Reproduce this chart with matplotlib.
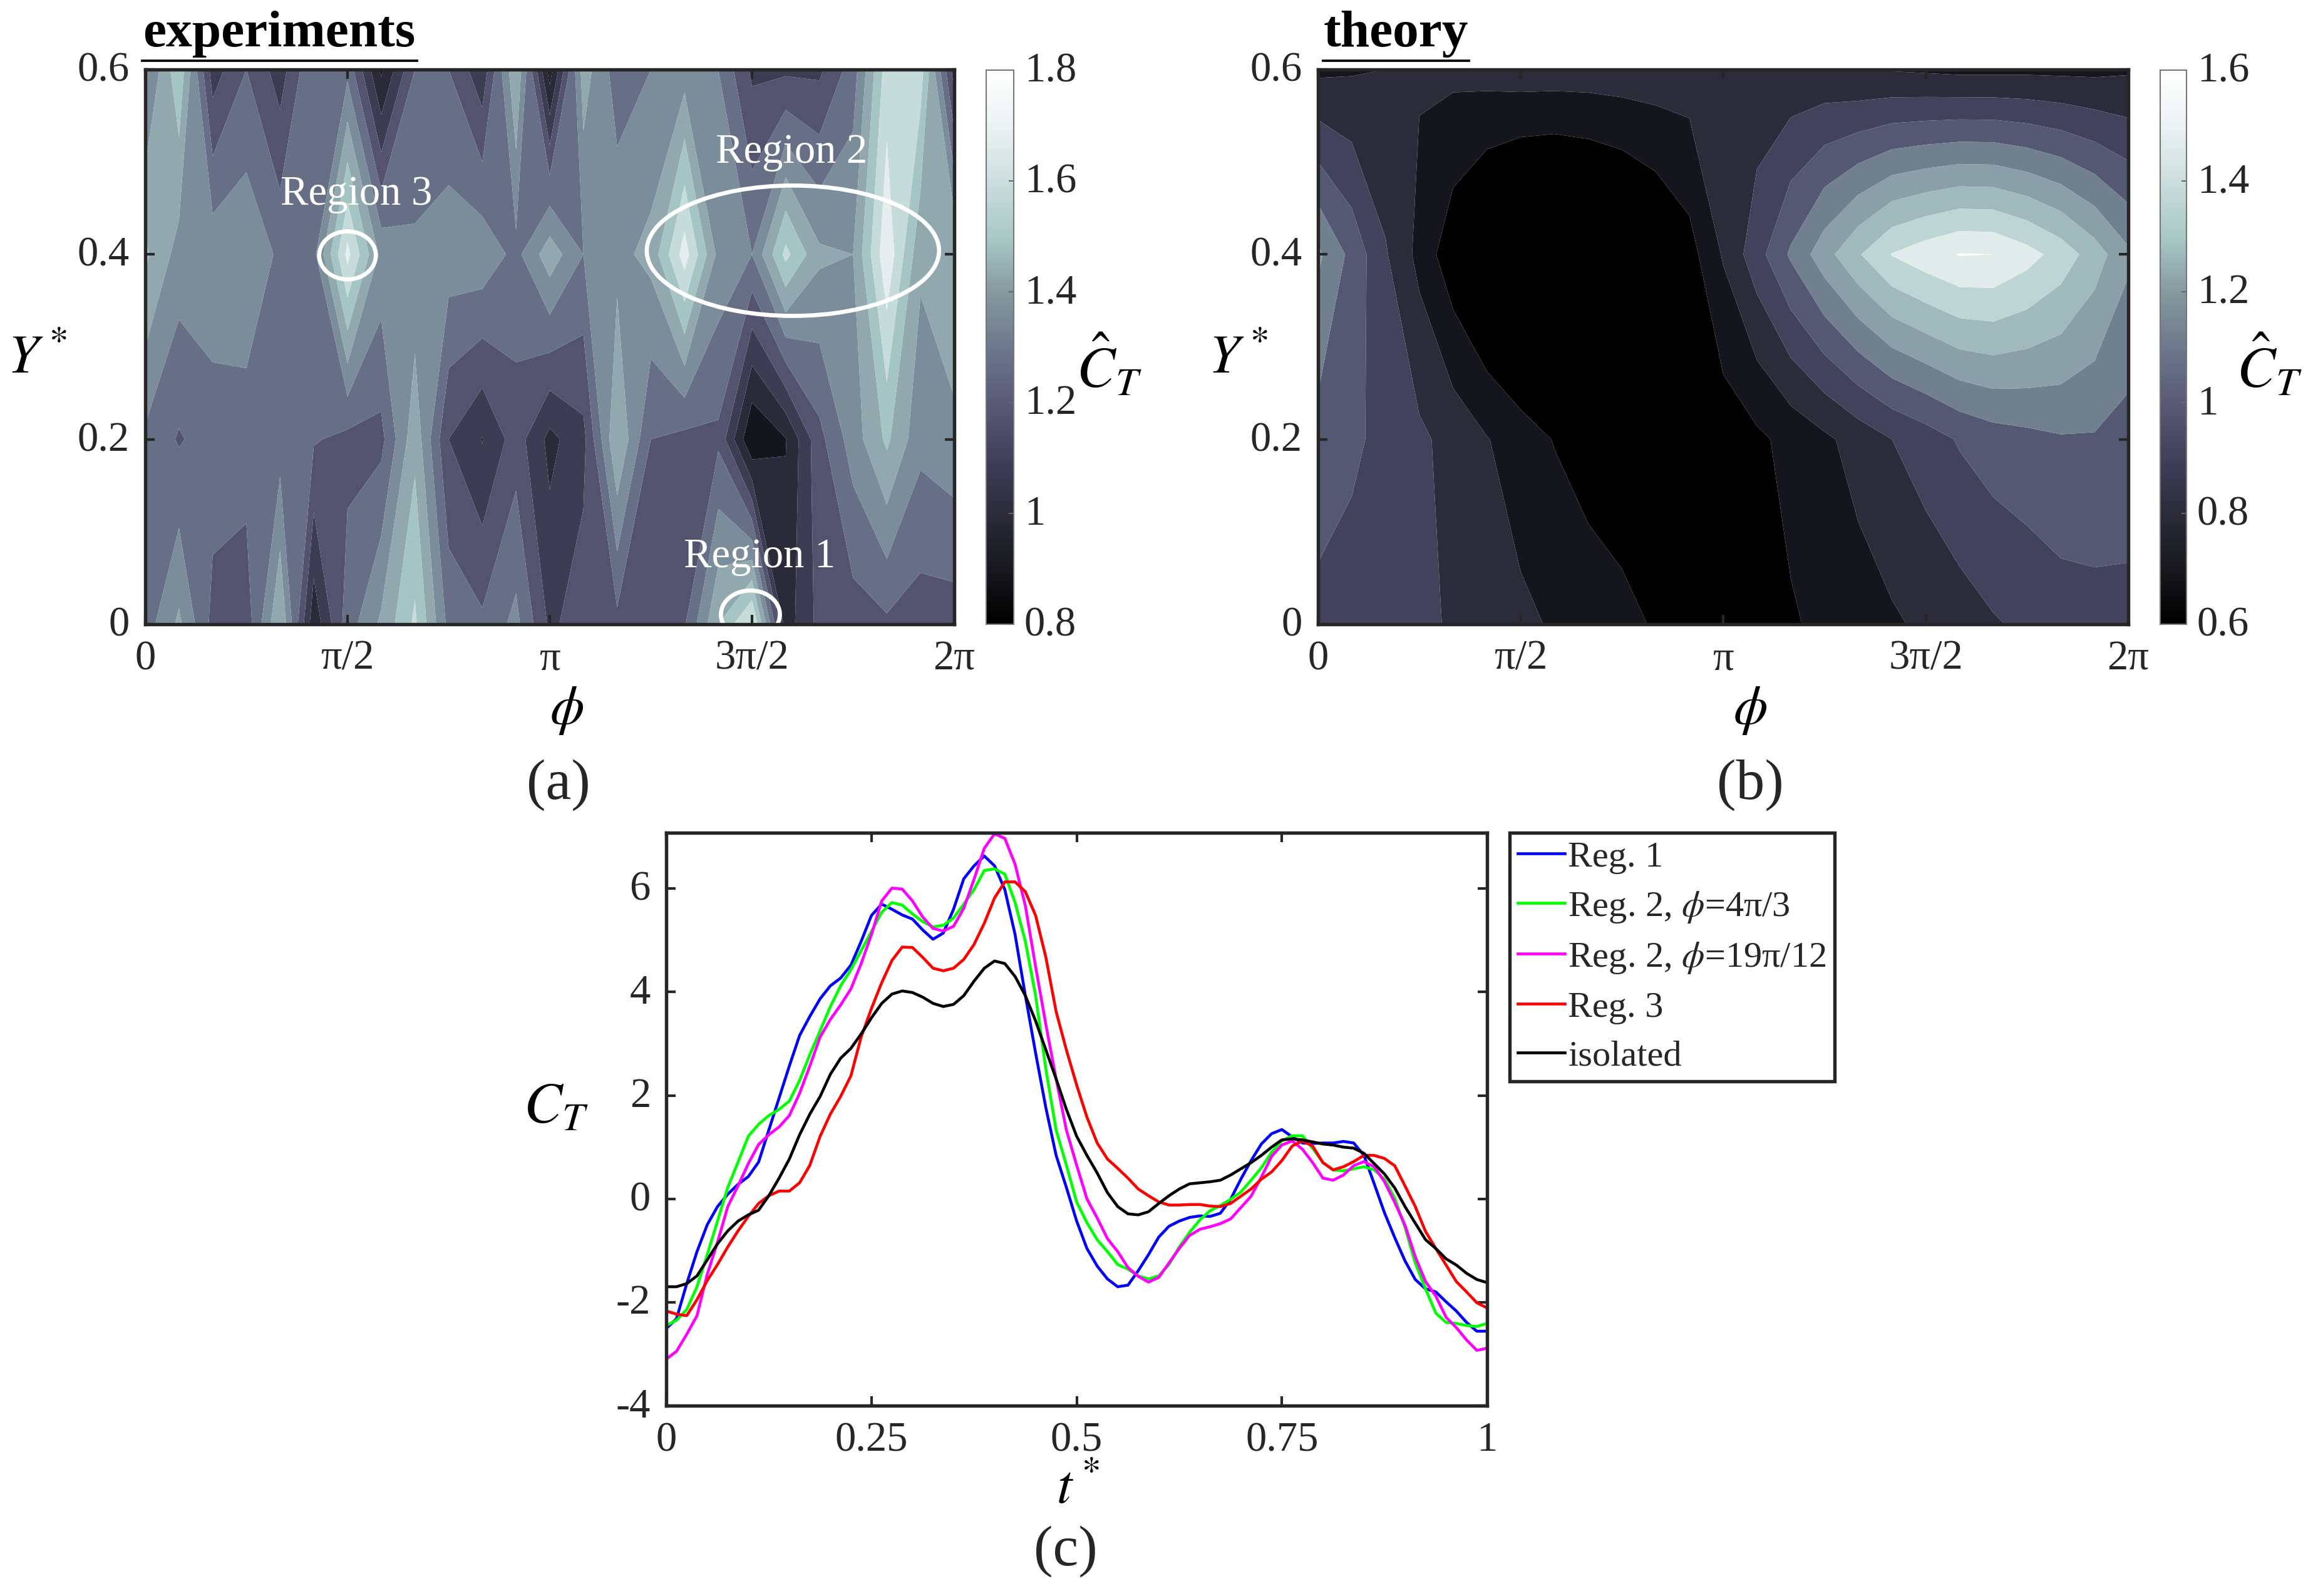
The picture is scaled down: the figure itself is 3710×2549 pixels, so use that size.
import numpy as np
import matplotlib
matplotlib.use("Agg")
import matplotlib.pyplot as plt
from matplotlib.colors import LinearSegmentedColormap, Normalize
from matplotlib.cm import ScalarMappable
from matplotlib.patches import Ellipse
from matplotlib.lines import Line2D
from matplotlib.transforms import ScaledTranslation

plt.rcParams['font.family'] = ['Liberation Serif', 'DejaVu Serif']
plt.rcParams['mathtext.fontset'] = 'stix'

W, H = 3710, 2549
DARK = '#262626'

bar_colors = ['#000000', '#18181f', '#2b2b3a', '#42405a', '#5a5a78', '#6c788c',
              '#86999f', '#a8c9c6', '#cbdedd', '#ecf2f2', '#ffffff']
exp_bands = ['#15151d', '#2a2a38', '#3c3c52', '#53536f', '#676f86', '#7b8c9a',
             '#90a8ae', '#a5c5c4', '#c5dcdb', '#e5eeed', '#ffffff']
th_bands = ['#000000', '#15151d', '#2b2b3a', '#42425c', '#555872', '#70808f',
            '#8a9fa8', '#9fb9bc', '#bdd5d5', '#e0ebea', '#ffffff']

Y_rows = [0.0, 0.2, 0.4, 0.6]
phi_cols = [k * np.pi / 12 for k in range(25)]

exp_y0 = [1.25, 1.42, 1.17, 1.14, 1.50, 0.93, 1.25, 1.42, 1.62, 1.27, 1.22, 1.33, 1.08,
          1.15, 1.17, 1.15, 1.19, 1.50, 1.72, 0.95, 1.13, 1.15, 1.18, 1.15, 1.15]
exp_y2 = [1.28, 1.19, 1.25, 1.25, 1.25, 1.21, 1.17, 1.17, 1.47, 1.10, 0.995, 1.15, 0.97,
          1.07, 1.50, 1.20, 1.17, 1.18, 0.80, 0.895, 1.17, 1.35, 1.52, 1.33, 1.37]
exp_y4 = [1.52, 1.36, 1.37, 1.38, 1.28, 1.27, 1.73, 1.37, 1.32, 1.36, 1.37, 1.27, 1.46,
          1.30, 1.37, 1.43, 1.75, 1.37, 1.30, 1.63, 1.42, 1.40, 1.78, 1.42, 1.50]
exp_y6 = [1.27, 1.58, 1.05, 1.20, 1.05, 1.30, 1.27, 0.88, 1.20, 1.20, 1.03, 1.50, 0.85,
          1.45, 1.25, 1.30, 1.35, 1.30, 1.08, 1.08, 1.08, 1.25, 1.65, 1.65, 1.05]

th_y0 = [.97, .955, .94, .92, .89, .85, .82, .79, .76, .73, .69, .67, .66,
         .67, .69, .72, .75, .785, .82, .85, .89, .92, .95, .96, .97]
th_y2 = [1.06, 1.02, .97, .92, .865, .805, .75, .695, .65, .63, .62, .62, .64,
         .68, .73, .78, .84, .90, .95, 1.01, 1.05, 1.07, 1.09, 1.09, 1.06]
th_y4 = [1.22, 1.07, .91, .77, .63, .52, .44, .42, .45, .50, .575, .66, .81,
         .96, 1.115, 1.26, 1.39, 1.505, 1.56, 1.605, 1.60, 1.54, 1.46, 1.35, 1.22]
th_y6 = [.78, .79, .80, .81, .824, .837, .85, .85, .85, .853, .854, .85, .84,
         .83, .825, .82, .80, .793, .785, .776, .776, .778, .776, .776, .787]

t_star = [k * 0.0125 for k in range(81)]
reg1 = [-2.51, -2.32, -1.64, -1.02, -.50, -.15, .09, .28, .43, .71, 1.33, 1.95, 2.57, 3.16, 3.53, 3.87, 4.12,
        4.27, 4.52, 4.98, 5.48, 5.70, 5.60, 5.49, 5.41, 5.20, 5.02, 5.14, 5.60, 6.19, 6.44,
        6.63, 6.44, 5.98, 5.11, 3.93, 2.82, 1.76, .84, .22, -.43, -.96, -1.30, -1.55, -1.70, -1.67, -1.39, -1.08,
        -.74, -.53, -.43, -.36, -.33, -.34, -.28, -.01, .38, .74, 1.06, 1.26, 1.34, 1.20, 1.08, 1.07, 1.08, 1.08,
        1.11, 1.08, .84, .29, -.27, -.75, -1.20, -1.56, -1.74, -1.80, -1.99, -2.17, -2.39, -2.56, -2.56]
reg2a = [-2.45, -2.35, -2.14, -1.70, -1.08, -.43, .22, .71, 1.21, 1.44, 1.61, 1.73, 1.89, 2.29, 2.79, 3.25, 3.72,
         4.12, 4.43, 4.80, 5.17, 5.54, 5.73, 5.68, 5.51, 5.36, 5.26, 5.29, 5.43, 5.70, 5.98,
         6.35, 6.38, 6.28, 5.73, 4.98, 3.93, 2.51, 1.33, .65, -.06, -.46, -.79, -1.02, -1.27, -1.36, -1.49, -1.55,
         -1.49, -1.27, -.93, -.65, -.41, -.23, -.13, -.01, .13, .36, .60, .90, 1.12, 1.22, 1.22, .98, .70, .56,
         .54, .58, .62, .56, .38, .01, -.55, -1.24, -1.74, -2.21, -2.39, -2.41, -2.45, -2.47, -2.41]
reg2b = [-3.10, -2.95, -2.62, -2.26, -1.46, -.84, -.15, .25, .68, 1.05, 1.24, 1.39, 1.61, 2.04, 2.57, 3.13, 3.47,
         3.75, 4.06, 4.55, 5.11, 5.76, 6.01, 5.99, 5.76, 5.45, 5.23, 5.18, 5.27, 5.62, 6.18,
         6.78, 7.06, 6.97, 6.47, 5.67, 4.49, 3.37, 2.32, 1.33, .65, 0.0, -.37, -.77, -1.02, -1.33, -1.50, -1.61,
         -1.52, -1.24, -.96, -.71, -.59, -.54, -.48, -.39, -.17, .05, .42, .82, 1.04, 1.12, .96, .70, .40, .36,
         .46, .64, .72, .62, .33, -.07, -.51, -1.12, -1.60, -1.88, -2.29, -2.49, -2.73, -2.93, -2.89]
reg3 = [-2.17, -2.23, -2.26, -1.95, -1.58, -1.27, -.93, -.62, -.34, -.09, .06, .15, .15, .31, .65, 1.21, 1.64,
        1.98, 2.38, 3.13, 3.68, 4.18, 4.61, 4.87, 4.86, 4.67, 4.46, 4.41, 4.46, 4.63, 4.92,
        5.33, 5.82, 6.13, 6.13, 5.94, 5.48, 4.67, 3.62, 2.88, 2.20, 1.58, 1.08, .77, .59, .40, .19, .06,
        -.06, -.12, -.12, -.11, -.11, -.14, -.15, -.09, .05, .19, .38, .52, .74, 1.02, 1.12, 1.02, .70, .56,
        .62, .72, .84, .84, .78, .64, .25, -.15, -.63, -.96, -1.28, -1.60, -1.80, -2.01, -2.11]
isolated = [-1.70, -1.70, -1.64, -1.49, -1.18, -.87, -.62, -.43, -.31, -.22, .06, .40, .77, 1.24, 1.64, 1.98, 2.41,
            2.72, 2.91, 3.19, 3.50, 3.78, 3.96, 4.02, 3.99, 3.90, 3.78, 3.72, 3.76, 3.93, 4.21,
            4.46, 4.60, 4.55, 4.30, 3.93, 3.44, 2.88, 2.32, 1.73, 1.21, .84, .50, .12, -.15, -.29, -.31, -.25,
            -.09, .06, .19, .29, .31, .33, .36, .46, .58, .70, .84, 1.00, 1.14, 1.16, 1.14, 1.10, 1.06, 1.04,
            1.00, .98, .88, .68, .48, .21, -.15, -.47, -.79, -.96, -1.16, -1.28, -1.44, -1.56, -1.62]
series_labels = ['Reg. 1', r'Reg. 2, $\phi$=4π/3', r'Reg. 2, $\phi$=19π/12', 'Reg. 3', 'isolated']
series_colors = ['#0000ff', '#00ff00', '#ff00ff', '#ff0000', '#000000']

phi_ticks = [0, np.pi / 2, np.pi, 3 * np.pi / 2, 2 * np.pi]
phi_ticklabels = ['0', 'π/2', 'π', '3π/2', '2π']
Y_ticks = [0, 0.2, 0.4, 0.6]
Y_ticklabels = ['0', '0.2', '0.4', '0.6']

fig = plt.figure(figsize=(W / 300, H / 300), dpi=300)
lift = ScaledTranslation(0, 5 / 300, fig.dpi_scale_trans)


def ax_px(x0, y0, x1, y1):
    return fig.add_axes([x0 / W, 1 - y1 / H, (x1 - x0) / W, (y1 - y0) / H])


def ftext(x, y, s, **kw):
    kw.setdefault('ha', 'center')
    kw.setdefault('va', 'center')
    return fig.text(x / W, 1 - y / H, s, **kw)


def style(ax):
    for s in ax.spines.values():
        s.set_color(DARK)
        s.set_linewidth(1.3)
    ax.tick_params(direction='in', length=3.6, width=1.0, color=DARK, top=True, right=True,
                   labelsize=16, labelcolor=DARK, pad=6)


def lift_labels(axis):
    for lab in axis.get_ticklabels():
        lab.set_transform(lab.get_transform() + lift)


smooth = LinearSegmentedColormap.from_list('cmap', bar_colors)


def panel(box, cbox, rows, lo, bands, ticks, ticklabels):
    ax = ax_px(*box)
    levels = [-9.0] + [lo + 0.1 * i for i in range(1, 11)] + [9.0]
    ax.contourf(phi_cols, Y_rows, np.array(rows), levels=levels, colors=bands, antialiased=True)
    ax.set_xlim(0, 2 * np.pi)
    ax.set_ylim(0, 0.6)
    ax.set_xticks(phi_ticks, phi_ticklabels)
    ax.set_yticks(Y_ticks, Y_ticklabels)
    style(ax)
    lift_labels(ax.yaxis)
    cax = ax_px(*cbox)
    sm = ScalarMappable(norm=Normalize(lo, lo + 1), cmap=smooth)
    cb = fig.colorbar(sm, cax=cax)
    cb.set_ticks(ticks, labels=ticklabels)
    cb.ax.tick_params(direction='in', length=2, width=0.5, color='#666666', labelsize=16,
                      labelcolor=DARK, pad=4)
    lift_labels(cb.ax.yaxis)
    cb.outline.set_edgecolor('#777777')
    cb.outline.set_linewidth(0.5)
    return ax


ax_a = panel((232, 111, 1524, 997), (1575, 112, 1619, 997), [exp_y0, exp_y2, exp_y4, exp_y6], 0.8, exp_bands,
             [.8, 1, 1.2, 1.4, 1.6, 1.8], ['0.8', '1', '1.2', '1.4', '1.6', '1.8'])
ax_b = panel((2105, 111, 3399, 997), (3450, 112, 3492, 997), [th_y0, th_y2, th_y4, th_y6], 0.6, th_bands,
             [.6, .8, 1, 1.2, 1.4, 1.6], ['0.6', '0.8', '1', '1.2', '1.4', '1.6'])

for (px, py, w, h) in [(np.pi / 2, .399, .44, .052), (5.03, .404, 2.27, .141), (4.70, .0105, .458, .052)]:
    ax_a.add_patch(Ellipse((px, py), w, h, fill=False, ec='white', lw=1.6))
for (px, py, s) in [(1.64, .465, 'Region 3'), (5.02, .51, 'Region 2'), (4.77, .073, 'Region 1')]:
    ax_a.text(px, py, s, color='white', fontsize=16, ha='center', va='center')

# panel (c)
ax_c = ax_px(1064, 1330, 2375, 2245)
curves = [reg1, reg2a, reg2b, reg3, isolated]
handles = []
for vals, lab, col in zip(curves, series_labels, series_colors):
    handles.append(ax_c.plot(t_star, vals, color=col, lw=1.1, label=lab)[0])
ax_c.set_xlim(0, 1)
ax_c.set_ylim(-4, 7.08)
ax_c.set_xticks([0, .25, .5, .75, 1], ['0', '0.25', '0.5', '0.75', '1'])
ax_c.set_yticks([-4, -2, 0, 2, 4, 6], ['-4', '-2', '0', '2', '4', '6'])
style(ax_c)
lift_labels(ax_c.yaxis)
leg = ax_c.legend(handles=handles, loc='upper left', bbox_to_anchor=(2411 / W, 1 - 1330 / H),
                  bbox_transform=fig.transFigure, fontsize=14, frameon=True, fancybox=False,
                  edgecolor=DARK, framealpha=1, borderaxespad=0, handlelength=1.28, handletextpad=0.1,
                  labelspacing=0.43, borderpad=0.22, labelcolor=DARK)
leg.get_frame().set_linewidth(1.3)

# labels
ftext(446, 55, 'experiments', fontsize=20, fontweight='bold', color='black')
ftext(2229, 55, 'theory', fontsize=20, fontweight='bold', color='black')
fig.add_artist(Line2D([227 / W, 666 / W], [1 - 97 / H] * 2, color='black', lw=0.9))
fig.add_artist(Line2D([2113 / W, 2346 / W], [1 - 97 / H] * 2, color='black', lw=0.9))

ftext(905, 1135, r'$\phi$', fontsize=21)
ftext(2795, 1135, r'$\phi$', fontsize=21)
ftext(60, 575, r'$Y^*$', fontsize=21)
ftext(1978, 575, r'$Y^*$', fontsize=21)
ftext(1772, 585, r'$\hat{C}_T$', fontsize=22)
ftext(3625, 585, r'$\hat{C}_T$', fontsize=22)
ftext(892, 1254, '(a)', fontsize=22, color=DARK)
ftext(2795, 1254, '(b)', fontsize=22, color=DARK)
ftext(1722, 2380, r'$t^*$', fontsize=21)
ftext(888, 1770, r'$C_T$', fontsize=22)
ftext(1702, 2478, '(c)', fontsize=22, color=DARK)

fig.savefig('out.png', dpi=300, facecolor='white')
